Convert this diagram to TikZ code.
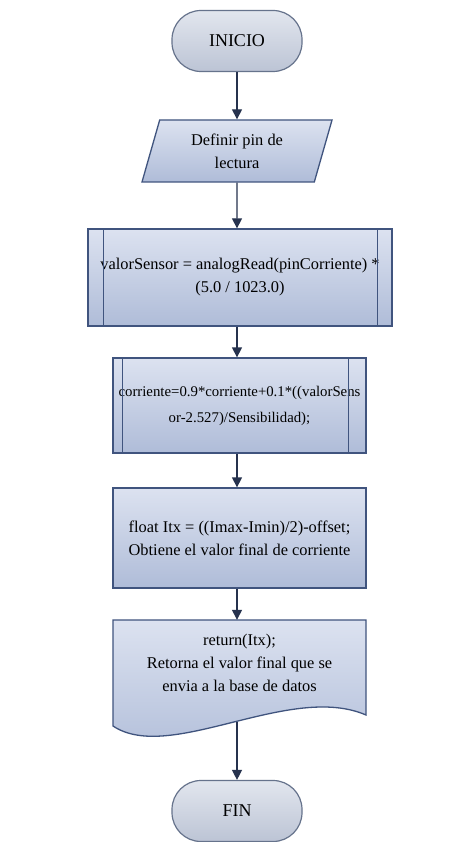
\documentclass[tikz,border=0pt]{standalone}
\usepackage{fontspec}
\setmainfont{Liberation Serif}
\usetikzlibrary{arrows.meta,shapes.geometric}
\definecolor{edge}{HTML}{40547E}
\definecolor{termedge}{HTML}{66738C}
\definecolor{arr}{HTML}{26324E}
\definecolor{ftop}{HTML}{DCE2F0}
\definecolor{fbot}{HTML}{AFBCD8}
\definecolor{ttop}{HTML}{E2E6EE}
\definecolor{tbot}{HTML}{BCC4D5}
\tikzset{
  txt/.style={font=\fontsize{16.4}{23}\selectfont, align=center, inner sep=0pt},
  box/.style={txt, draw=edge, line width=1.3pt, top color=ftop, bottom color=fbot},
  term/.style={txt, font=\fontsize{18}{23}\selectfont, draw=termedge, line width=1.2pt,
    top color=ttop, bottom color=tbot,
    rounded corners=29pt, minimum width=130pt, minimum height=61pt},
  iobox/.style={box, trapezium, trapezium left angle=63, trapezium right angle=117,
    trapezium stretches body, minimum width=190pt, minimum height=62pt},
  bar/.style={draw=edge, line width=1.1pt},
  flow/.style={draw=arr, line width=1.3pt, -{Triangle[width=10pt,length=10pt]}},
}
\begin{document}
\begin{tikzpicture}[x=1pt,y=-1pt]
\useasboundingbox (0,0) rectangle (450,842);
\fill[white] (0,0) rectangle (450,842);

\node[term] (inicio) at (237,41) {INICIO};
\node[iobox] (pin) at (237,151) {Definir pin de\\lectura};
\node[box, minimum width=304pt, minimum height=97pt] (b1) at (240,277.5)
  {valorSensor = analogRead(pinCorriente) *\\(5.0 / 1023.0)};
\draw[bar] ([xshift=16pt]b1.north west) -- ([xshift=16pt]b1.south west);
\draw[bar] ([xshift=-15pt]b1.north east) -- ([xshift=-15pt]b1.south east);

\node[box, minimum width=253pt, minimum height=95pt,
  font=\fontsize{14.8}{26}\selectfont] (b2) at (239.5,405.5)
  {corriente=0.9*corriente+0.1*((valorSens\\or-2.527)/Sensibilidad);};
\draw[bar] ([xshift=10pt]b2.north west) -- ([xshift=10pt]b2.south west);
\draw[bar] ([xshift=-18pt]b2.north east) -- ([xshift=-18pt]b2.south east);

\node[box, minimum width=253pt, minimum height=100pt] (b3) at (239.5,538)
  {float Itx = ((Imax-Imin)/2)-offset;\\Obtiene el valor final de corriente};

% document shape
\path[draw=edge, line width=1.3pt, top color=ftop, bottom color=fbot]
  (113,620) -- (366,620) -- (366,715)
  .. controls (290,682) and (170,764) .. (113,726) -- cycle;
\node[txt, minimum width=253pt, minimum height=86pt] (doc) at (239.5,663)
  {return(Itx);\\Retorna el valor final que se\\envia a la base de datos};
\coordinate (docbot) at (237,722);

\node[term] (fin) at (237,811) {FIN};

\draw[flow] (inicio) -- (pin);
\draw[flow] (pin) -- (pin |- b1.north);
\draw[flow] (b1.south -| inicio) -- (b2.north -| inicio);
\draw[flow] (b2.south -| inicio) -- (b3.north -| inicio);
\draw[flow] (b3.south -| inicio) -- (doc.north -| inicio);
\draw[flow] (docbot) -- (fin);
\end{tikzpicture}
\end{document}
